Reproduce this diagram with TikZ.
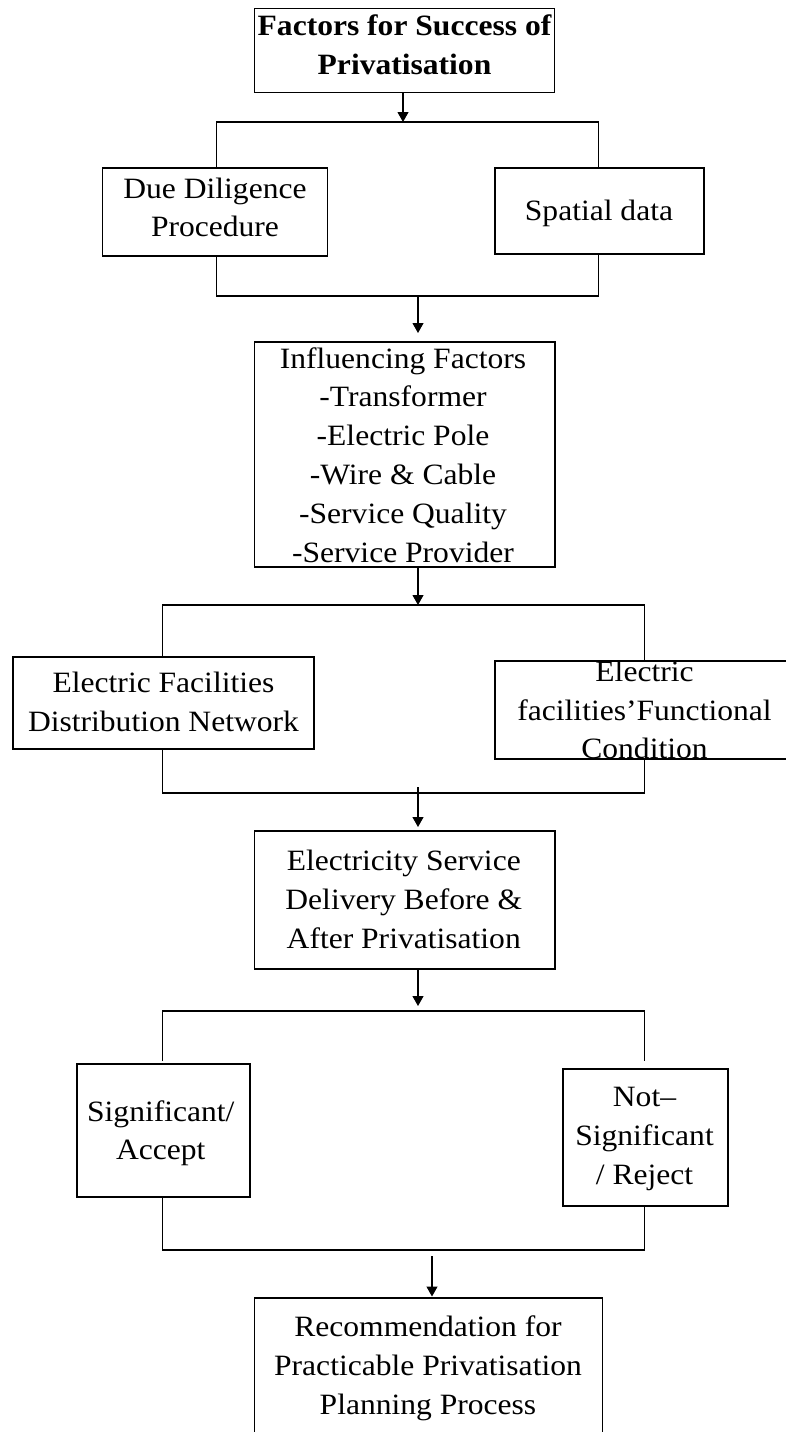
\documentclass[tikz,border=0pt]{standalone}
\usepackage{fontspec}
\setmainfont{Liberation Serif}[FakeStretch=1.07]
\usetikzlibrary{arrows.meta}
\tikzset{
  box/.style={draw, line width=1.1pt, rectangle, inner sep=0pt},
  txt/.style={align=center, inner sep=0pt, font=\fontsize{29.5}{38.8}\selectfont},
  conn/.style={line width=1.1pt},
  arr/.style={line width=1.1pt, -{Triangle[width=11pt,length=10pt]}}
}
\begin{document}
\begin{tikzpicture}[x=1pt,y=-1pt]
\useasboundingbox (0,0) rectangle (786,1432);
% boxes
\node[box, minimum width=300pt, minimum height=84pt] (top) at (404.5,50.3) {};
\node[box, minimum width=225pt, minimum height=88pt] (due) at (215,212) {};
\node[box, minimum width=209pt, minimum height=86pt] (spatial) at (599.5,211) {};
\node[box, minimum width=300.5pt, minimum height=225pt] (infl) at (404.75,454.5) {};
\node[box, minimum width=301pt, minimum height=92pt] (efac) at (163.5,703) {};
\node[box, minimum width=305pt, minimum height=98pt] (efunc) at (647.5,710) {};
\node[box, minimum width=300.5pt, minimum height=138pt] (elec) at (404.75,900) {};
\node[box, minimum width=173pt, minimum height=133pt] (sig) at (163.5,1130.5) {};
\node[box, minimum width=165pt, minimum height=137pt] (notsig) at (645.5,1137.5) {};
\node[box, minimum width=348pt, minimum height=152pt] (rec) at (428.5,1374) {};
% texts
\node[txt] (toptxt) at (404.5,47.3) {\strut\bfseries Factors for Success of\\\strut\bfseries Privatisation\strut};
\node[txt] (duetxt) at (215,209.8) {\strut Due Diligence\\Procedure\strut};
\node[txt] (spatialtxt) at (599,212.3) {\strut Spatial data\strut};
\node[txt] (infltxt) at (403,457.3) {\strut Influencing Factors\\-Transformer\\-Electric Pole\\-Wire \& Cable\\-Service Quality\\-Service Provider\strut};
\node[txt] (efactxt) at (163.5,704.3) {\strut Electric Facilities\\Distribution Network\strut};
\node[txt] (efunctxt) at (644.5,712.3) {\strut Electric\\facilities’Functional\\Condition\strut};
\node[txt] (electxt) at (403.75,901.8) {\strut Electricity Service\\Delivery Before \&\\After Privatisation\strut};
\node[txt] (sigtxt) at (160.8,1132.8) {\strut Significant/\\Accept\strut};
\node[txt] (notsigtxt) at (644.5,1137.8) {\strut Not–\\Significant\\/ Reject\strut};
\node[txt] (rectxt) at (428,1367.8) {\strut Recommendation for\\Practicable Privatisation\\Planning Process\strut};
% coordinates
\coordinate (b1) at (403,122);
\coordinate (b1l) at (216.5,122);
\coordinate (b1r) at (598.5,122);
\coordinate (b2l) at (216.5,296);
\coordinate (b2r) at (598.5,296);
\coordinate (a2s) at (418,296);
\coordinate (a2e) at (418,333);
\coordinate (b3) at (418,605);
\coordinate (b3l) at (162.5,605);
\coordinate (b3r) at (644.5,605);
\coordinate (b4l) at (162.5,793);
\coordinate (b4r) at (644.5,793);
\coordinate (a4s) at (418,787);
\coordinate (a4e) at (418,827);
\coordinate (b5) at (418,1006);
\coordinate (b5l) at (162.5,1011);
\coordinate (b5r) at (644.5,1011);
\coordinate (b5le) at (162.5,1061);
\coordinate (b5re) at (644.5,1061);
\coordinate (b6l) at (162.5,1250);
\coordinate (b6r) at (644.5,1250);
\coordinate (a6s) at (432,1256);
\coordinate (a6e) at (432,1296.5);
% connectors
\draw[arr] (top.south -| b1) -- (b1);
\draw[conn] (due.north -| b1l) -- (b1l) -- (b1r) -- (spatial.north -| b1r);
\draw[conn] (due.south -| b2l) -- (b2l) -- (b2r) -- (spatial.south -| b2r);
\draw[arr] (a2s) -- (a2e);
\draw[arr] (infl.south -| b3) -- (b3);
\draw[conn] (efac.north -| b3l) -- (b3l) -- (b3r) -- (efunc.north -| b3r);
\draw[conn] (efac.south -| b4l) -- (b4l) -- (b4r) -- (efunc.south -| b4r);
\draw[arr] (a4s) -- (a4e);
\draw[arr] (elec.south -| b5) -- (b5);
\draw[conn] (b5le) -- (b5l) -- (b5r) -- (b5re);
\draw[conn] (sig.south -| b6l) -- (b6l) -- (b6r) -- (notsig.south -| b6r);
\draw[arr] (a6s) -- (a6e);
\end{tikzpicture}
\end{document}
